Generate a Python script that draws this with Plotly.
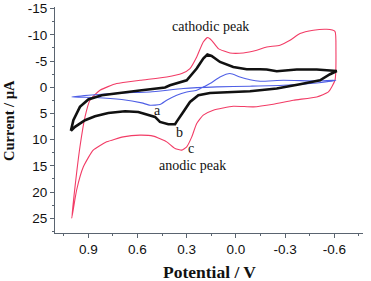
import plotly.graph_objects as go

# Red (c) curve
red_v = [1.001, 0.981, 0.951, 0.920, 0.890, 0.829, 0.727, 0.585, 0.422, 0.330, 0.280, 0.239, 0.199, 0.172,
         0.148, 0.107, 0.036, -0.045, -0.127, -0.188, -0.269, -0.330, -0.391, -0.472, -0.554, -0.604,
         -0.610, -0.604, -0.564, -0.493, -0.350, -0.228, -0.106, 0.016, 0.138, 0.199, 0.239, 0.269,
         0.300, 0.330, 0.371, 0.422, 0.504, 0.585, 0.687, 0.788, 0.870, 0.930, 0.971, 1.001]
red_i = [25.0, 19.0, 11.4, 5.66, 2.48, 0.57, -0.70, -1.33, -1.96, -2.61, -3.56, -5.77, -8.63, -9.47,
         -8.95, -7.37, -6.53, -6.53, -7.05, -7.68, -8.0, -8.95, -10.23, -10.86, -11.05, -10.67,
         -7.05, -1.33, 0.90, 1.85, 2.48, 3.24, 3.75, 3.62, 4.38, 5.33, 6.92, 9.47,
         11.37, 12.0, 11.68, 10.42, 9.33, 9.14, 9.47, 10.42, 12.0, 15.18, 19.6, 25.0]

# Black (b) curve
blk_v = [1.006, 0.991, 0.951, 0.900, 0.818, 0.696, 0.574, 0.432, 0.402, 0.300, 0.239, 0.199, 0.174, 0.148,
         0.097, 0.016, -0.066, -0.147, -0.188, -0.249, -0.310, -0.371, -0.493, -0.604, -0.615,
         -0.574, -0.513, -0.391, -0.249, -0.086, 0.016, 0.158, 0.229, 0.280, 0.321, 0.351, 0.362, 0.371,
         0.412, 0.463, 0.493, 0.595, 0.676, 0.778, 0.859, 0.920, 0.981, 1.006]
blk_i = [8.32, 6.29, 3.75, 2.34, 1.52, 1.01, 0.57, 0.06, -0.38, -1.33, -3.56, -5.47, -6.23, -5.96,
         -4.82, -3.87, -3.43, -3.43, -3.37, -3.05, -3.24, -3.37, -3.37, -3.24, -3.10,
         -2.48, -1.33, -0.57, 0.25, 0.76, 0.90, 1.09, 1.52, 2.80, 4.71, 6.29, 6.6, 7.05,
         7.05, 6.61, 5.66, 4.71, 4.57, 4.90, 5.52, 6.29, 7.56, 8.32]

# Blue (a) curve
blu_v = [1.001, 0.900, 0.696, 0.524, 0.321, 0.117, -0.086, -0.289, -0.493, -0.610,
         -0.493, -0.289, -0.147, -0.086, -0.025, 0.036, 0.097, 0.158, 0.239, 0.300, 0.361, 0.422,
         0.463, 0.524, 0.574, 0.696, 0.859, 1.001]
blu_i = [1.85, 1.52, 1.09, 0.90, 0.25, -0.06, -0.20, -0.38, -0.82, -1.33,
         -1.20, -1.33, -1.15, -1.43, -1.96, -2.61, -1.96, -0.70, 0.57, 0.90, 1.52, 2.48,
         3.30, 3.43, 2.99, 2.34, 1.96, 1.85]

x_ticks = [0.9, 0.6, 0.3, 0.0, -0.3, -0.6]
x_labels = ["0.9", "0.6", "0.3", "0.0", "-0.3", "-0.6"]
y_ticks = [-15, -10, -5, 0, 5, 10, 15, 20, 25]
y_labels = ["-15", "-10", "-5", "0", "5", "10", "15", "20", "25"]

fig = go.Figure()
fig.add_trace(go.Scatter(x=red_v, y=red_i, mode="lines", line=dict(color="#f23c66", width=1.1),
                         line_shape="spline", line_smoothing=0.5, showlegend=False, cliponaxis=False))
fig.add_trace(go.Scatter(x=blu_v, y=blu_i, mode="lines", line=dict(color="#4f5fe6", width=1.1),
                         line_shape="spline", line_smoothing=0.5, showlegend=False, cliponaxis=False))
fig.add_trace(go.Scatter(x=blk_v, y=blk_i, mode="lines", line=dict(color="#111111", width=2.6),
                         line_shape="linear", showlegend=False, cliponaxis=False))

serif = "Liberation Serif, Times New Roman, serif"
ann = [
    ("cathodic peak", 0.152, -11.6),
    ("anodic peak", 0.262, 14.9),
    ("a", 0.475, 4.4),
    ("b", 0.341, 8.6),
    ("c", 0.276, 11.6),
]
for t, x, y in ann:
    fig.add_annotation(x=x, y=y, text=t, showarrow=False,
                       font=dict(family=serif, size=14, color="#111111"))

fig.add_annotation(xref="paper", yref="paper", x=0.503, y=-0.173, xanchor="center", yanchor="middle",
                   text="<b>Potential / V</b>",
                   showarrow=False, font=dict(family=serif, size=17.5, color="#111111"))
fig.add_annotation(xref="paper", yref="paper", x=-0.149, y=0.496, xanchor="center", yanchor="middle",
                   text="<b>Current / µA</b>",
                   showarrow=False, textangle=-90, font=dict(family=serif, size=14.5, color="#111111"))

axis_common = dict(showline=True, linecolor="#5a6470", linewidth=1, ticks="outside",
                   tickcolor="#5a6470", ticklen=4, showgrid=False, zeroline=False, automargin=False,
                   ticklabeloverflow="allow",
                   tickfont=dict(family="Liberation Sans, Arial, sans-serif", size=13.5, color="#111111"))

fig.update_xaxes(range=[1.103, -0.775], tickvals=x_ticks, ticktext=x_labels,
                 minor=dict(tick0=0, dtick=0.15, ticks="outside", ticklen=2, tickcolor="#5a6470"),
                 **axis_common)
fig.update_yaxes(range=[27.8, -15.3], tickvals=y_ticks, ticktext=y_labels,
                 minor=dict(tick0=0, dtick=2.5, ticks="outside", ticklen=2, tickcolor="#5a6470"),
                 **axis_common)

fig.update_layout(width=371, height=281, margin=dict(l=55, r=8, t=7, b=48),
                  plot_bgcolor="white", paper_bgcolor="white")
fig.write_html("out.html", config={"displayModeBar": False},
               post_script="document.body.style.margin='0px';")
